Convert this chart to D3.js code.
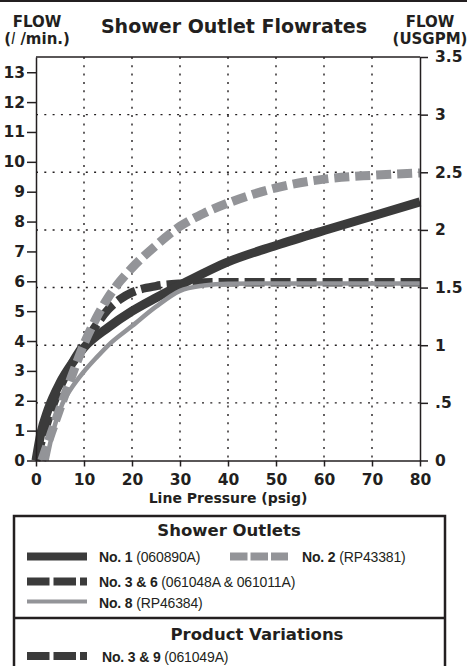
<!DOCTYPE html>
<html>
<head>
<meta charset="utf-8">
<script src="https://cdn.jsdelivr.net/npm/d3@7"></script>
<style>
  body { margin: 0; background: #fff; }
  text { fill: #231f20; }
  .hd { font-family: "DejaVu Sans", sans-serif; font-weight: bold; }
  .lg { font-family: "Liberation Sans Narrow", "Arial Narrow", "Liberation Sans", sans-serif; font-size: 14px; letter-spacing: -0.15px; }
  .axis text { font-family: "DejaVu Sans", sans-serif; font-weight: bold; font-size: 15.5px; }
  .axis path, .axis line { stroke: #231f20; stroke-width: 1.5; }
  .grid { stroke: #231f20; stroke-width: 1.4; stroke-dasharray: 2 6.3; }
</style>
</head>
<body>
<svg id="canvas" width="467" height="666"></svg>
<script>
// flow in l/min against line pressure in psig
let no1Psi = [0, 1, 2.5, 5, 7.5, 10, 15, 20, 25, 30, 40, 50, 60, 70, 80]
let no1Flow = [0, 0.9, 1.7, 2.6, 3.25, 3.78, 4.45, 5.0, 5.45, 5.87, 6.65, 7.2, 7.7, 8.18, 8.66]

let no2Psi = [1.2, 2.5, 5, 7.5, 10, 12.5, 15, 17.5, 20, 25, 30, 35, 40, 50, 60, 70, 80]
let no2Flow = [0, 0.6, 1.75, 2.85, 3.9, 4.75, 5.45, 6.0, 6.45, 7.2, 7.84, 8.28, 8.62, 9.13, 9.42, 9.55, 9.63]

let no36Psi = [0, 2, 4, 6, 8, 10, 12.5, 15, 17.5, 20, 25, 30, 40, 50, 60, 70, 80]
let no36Flow = [0, 1.1, 2.05, 2.8, 3.4, 3.9, 4.52, 5.05, 5.4, 5.63, 5.84, 5.92, 5.97, 5.97, 5.97, 5.97, 5.97]

let no8Psi = [2.2, 3.5, 5.5, 7.5, 10, 12.5, 15, 20, 25, 30, 35, 40, 50, 60, 70, 80]
let no8Flow = [0, 0.95, 1.9, 2.45, 2.98, 3.43, 3.85, 4.5, 5.15, 5.68, 5.86, 5.92, 5.93, 5.93, 5.93, 5.93]

let lpmTicks = [0, 1, 2, 3, 4, 5, 6, 7, 8, 9, 10, 11, 12, 13]
let gpmTicks = [0, 0.5, 1, 1.5, 2, 2.5, 3, 3.5]
let psiTicks = [0, 10, 20, 30, 40, 50, 60, 70, 80]

let outletNames = ["No. 1", "No. 2", "No. 3 & 6", "No. 8"]
let outletCodes = ["(060890A)", "(RP43381)", "(061048A & 061011A)", "(RP46384)"]
let variationNames = ["No. 3 & 9"]
let variationCodes = ["(061049A)"]

let dark = "#3b3b3b"
let grey = "#939498"

let canvas = d3.select("#canvas")

let x = d3.scaleLinear().domain([0, 80]).range([36, 420])
let yL = d3.scaleLinear().domain([0, 13.51]).range([460.5, 57])
let yR = d3.scaleLinear().domain([0, 3.5]).range([460.5, 57])

// top rule
canvas.append("line").attr("x1", 0).attr("x2", 467).attr("y1", 1).attr("y2", 1)
    .attr("stroke", "#231f20").attr("stroke-width", 2)

// headings
canvas.append("text").attr("class", "hd").attr("x", 234).attr("y", 33)
    .attr("text-anchor", "middle").style("font-size", "19px").text("Shower Outlet Flowrates")
canvas.append("text").attr("class", "hd").attr("x", 37).attr("y", 27)
    .attr("text-anchor", "middle").style("font-size", "15px").text("FLOW")
let unitL = canvas.append("text").attr("class", "hd").attr("x", 37).attr("y", 44)
    .attr("text-anchor", "middle").style("font-size", "15px")
unitL.append("tspan").text("(")
unitL.append("tspan").style("font-style", "italic").style("font-weight", "normal").text("l")
unitL.append("tspan").text(" /min.)")
canvas.append("text").attr("class", "hd").attr("x", 430).attr("y", 27)
    .attr("text-anchor", "middle").style("font-size", "15px").text("FLOW")
canvas.append("text").attr("class", "hd").attr("x", 430).attr("y", 44)
    .attr("text-anchor", "middle").style("font-size", "15px").text("(USGPM)")

// grid
canvas.selectAll(".hgrid")
    .data(gpmTicks.filter((d) => d > 0 && d < 3.5))
    .enter()
    .append("line")
    .attr("class", "grid")
    .attr("x1", x(0)).attr("x2", x(80))
    .attr("y1", (d) => yR(d)).attr("y2", (d) => yR(d))
canvas.selectAll(".vgrid")
    .data(psiTicks.filter((d) => d > 0 && d < 80))
    .enter()
    .append("line")
    .attr("class", "grid")
    .attr("x1", (d) => x(d)).attr("x2", (d) => x(d))
    .attr("y1", yL.range()[1]).attr("y2", yL.range()[0])

// top border of plot
canvas.append("line").attr("x1", x(0)).attr("x2", x(80)).attr("y1", 57).attr("y2", 57)
    .attr("stroke", "#231f20").attr("stroke-width", 1.5)

// curves
let line = d3.line()
    .x((d) => x(d[0]))
    .y((d) => yL(d[1]))
    .curve(d3.curveMonotoneX)

let series = [
    {psi: no36Psi, flow: no36Flow, color: dark, width: 8.5, dash: "20 6"},
    {psi: no1Psi, flow: no1Flow, color: dark, width: 9, dash: null},
    {psi: no2Psi, flow: no2Flow, color: grey, width: 9, dash: "15 6"},
    {psi: no8Psi, flow: no8Flow, color: grey, width: 4.5, dash: null}
]

canvas.selectAll(".curve")
    .data(series)
    .enter()
    .append("path")
    .attr("class", "curve")
    .attr("d", (s) => line(s.psi.map((p, i) => [p, s.flow[i]])))
    .attr("fill", "none")
    .attr("stroke", (s) => s.color)
    .attr("stroke-width", (s) => s.width)
    .attr("stroke-dasharray", (s) => s.dash)

// axes
canvas.append("g").attr("class", "axis")
    .attr("transform", "translate(" + x(0) + ",0)")
    .call(d3.axisLeft(yL).tickValues(lpmTicks).tickSize(9).tickSizeOuter(0).tickPadding(2))
canvas.append("g").attr("class", "axis")
    .attr("transform", "translate(" + x(80) + ",0)")
    .call(d3.axisRight(yR).tickValues(gpmTicks).tickSize(8).tickSizeOuter(0).tickPadding(7)
        .tickFormat((d) => d === 0.5 ? ".5" : d))
canvas.append("g").attr("class", "axis")
    .attr("transform", "translate(0," + yL(0) + ")")
    .call(d3.axisBottom(x).tickValues(psiTicks).tickSize(6).tickSizeOuter(0).tickPadding(7))

canvas.append("text").attr("class", "hd").attr("x", 228).attr("y", 503)
    .attr("text-anchor", "middle").style("font-size", "14px").text("Line Pressure (psig)")

// legend
canvas.append("rect").attr("x", 14).attr("y", 516).attr("width", 431).attr("height", 170)
    .attr("fill", "none").attr("stroke", "#231f20").attr("stroke-width", 2.5)
canvas.append("line").attr("x1", 14).attr("x2", 445).attr("y1", 618).attr("y2", 618)
    .attr("stroke", "#231f20").attr("stroke-width", 2.5)

canvas.append("text").attr("class", "hd").attr("x", 229).attr("y", 536)
    .attr("text-anchor", "middle").style("font-size", "16.5px").text("Shower Outlets")
canvas.append("text").attr("class", "hd").attr("x", 257).attr("y", 640)
    .attr("text-anchor", "middle").style("font-size", "16.5px").text("Product Variations")

let swatches = [
    {x0: 27, x1: 87, y: 556.5, text: 99, base: 562, color: dark, width: 8, dash: null},
    {x0: 230, x1: 288, y: 556.5, text: 302, base: 562, color: grey, width: 8, dash: "17.5 3"},
    {x0: 27, x1: 87, y: 581.5, text: 99, base: 587, color: dark, width: 8, dash: "22.5 4"},
    {x0: 27, x1: 87, y: 601.5, text: 99, base: 608, color: grey, width: 4, dash: null}
]
let varSwatches = [
    {x0: 27, x1: 87, y: 656, text: 102, base: 662, color: dark, width: 8, dash: "22.5 4"}
]

let drawLegend = (items, names, codes) => {
    items.forEach((s, i) => {
        canvas.append("line")
            .attr("x1", s.x0).attr("x2", s.x1).attr("y1", s.y).attr("y2", s.y)
            .attr("stroke", s.color).attr("stroke-width", s.width)
            .attr("stroke-dasharray", s.dash)
        let t = canvas.append("text").attr("class", "lg").attr("x", s.text).attr("y", s.base)
        t.append("tspan").style("font-weight", "bold").text(names[i])
        t.append("tspan").text(" " + codes[i])
    })
}
drawLegend(swatches, outletNames, outletCodes)
drawLegend(varSwatches, variationNames, variationCodes)
</script>
</body>
</html>
